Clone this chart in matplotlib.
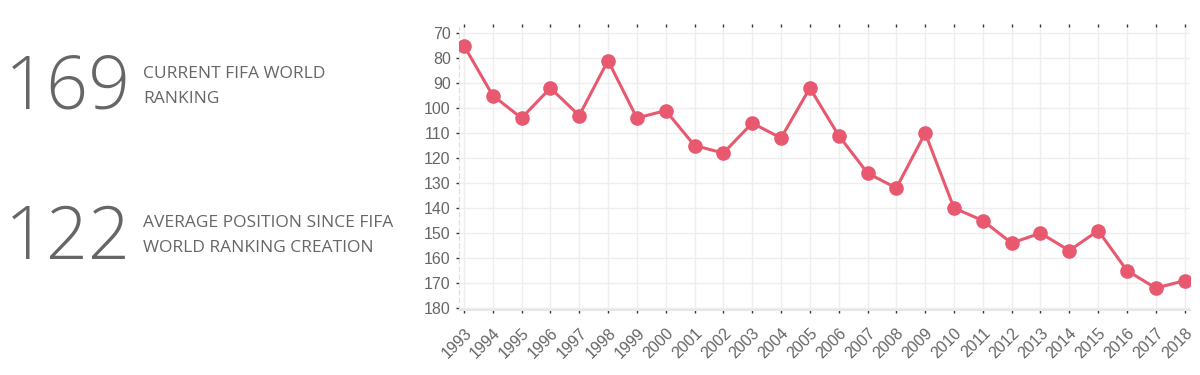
import matplotlib.pyplot as plt

plt.rcParams['font.family'] = ['Open Sans', 'DejaVu Sans']

years = list(range(1993, 2019))
ranking = [75, 95, 104, 92, 103, 81, 104, 101, 115, 118, 106, 112, 92,
           111, 126, 132, 110, 140, 145, 154, 150, 157, 149, 165, 172, 169]
yticks = [70, 80, 90, 100, 110, 120, 130, 140, 150, 160, 170, 180]

grey = '#666666'
red = '#e8596f'
tickfont = ['Liberation Sans', 'DejaVu Sans']

fig = plt.figure(figsize=(12, 3.75), dpi=100)

# stats on the left
fig.text(0.004, 0.762, '169', fontsize=53, fontweight='light', color=grey, va='center')
fig.text(0.119, 0.803, 'CURRENT FIFA WORLD', fontsize=12.5, color=grey, va='center')
fig.text(0.119, 0.737, 'RANKING', fontsize=12.5, color=grey, va='center')
fig.text(0.004, 0.36, '122', fontsize=53, fontweight='light', color=grey, va='center')
fig.text(0.119, 0.405, 'AVERAGE POSITION SINCE FIFA', fontsize=12.5, color=grey, va='center')
fig.text(0.119, 0.338, 'WORLD RANKING CREATION', fontsize=12.5, color=grey, va='center')

ax = fig.add_axes([0.3825, 0.173, 0.6095, 0.755])
ax.plot(years, ranking, color=red, linewidth=2.2, marker='o', markersize=9.5, zorder=3)

ax.set_xlim(1993 - 0.17, 2018 + 0.2)
ax.set_ylim(180.8, 67.6)
ax.set_xticks(years)
ax.set_xticklabels([str(y) for y in years], rotation=45, ha='right',
                   rotation_mode='anchor', fontsize=11.5, color=grey, family=tickfont)
ax.set_yticks(yticks)
ax.set_yticklabels([str(v) for v in yticks], fontsize=11.5, color=grey, family=tickfont)
ax.tick_params(axis='x', top=True, length=2, width=1, color='#333333', pad=9)
ax.tick_params(axis='y', length=2, width=1, color='#333333', pad=4)

ax.grid(True, color='#eeeeee', linewidth=1)
ax.set_axisbelow(True)
for s in ['top', 'right']:
    ax.spines[s].set_visible(False)
ax.spines['left'].set_color('#dddddd')
ax.spines['left'].set_linestyle((0, (4, 3)))
ax.spines['bottom'].set_color('#e6e6e6')
ax.spines['bottom'].set_linewidth(1.5)

fig.savefig('out.png', dpi=100)
